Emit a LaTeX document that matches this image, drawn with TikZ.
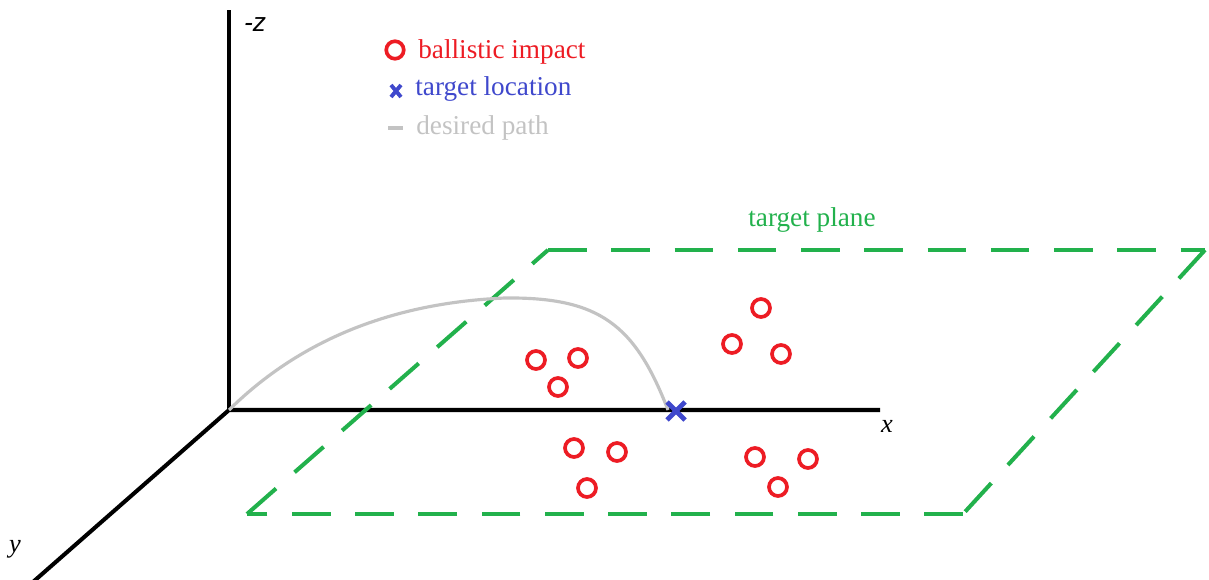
\documentclass[tikz,border=0pt]{standalone}
\usepackage{fontspec}
\setmainfont{Liberation Serif}
\setsansfont{Liberation Sans}
\usepackage{tikz}
\usetikzlibrary{calc,positioning}
\definecolor{impactred}{HTML}{ED1C24}
\definecolor{targetblue}{HTML}{3F48CC}
\definecolor{pathgrey}{HTML}{C3C3C3}
\definecolor{planegreen}{HTML}{22B14C}
\tikzset{
  axis/.style       = {black, line width=2.3pt},
  axis label/.style = {font=\fontsize{15}{18}\selectfont\itshape, inner sep=0pt},
  impact/.style     = {circle, draw=impactred, line width=2.1pt, fill=white,
                       minimum size=3.6mm, inner sep=0pt},
  impact key/.style = {impact, minimum size=3.5mm},
  target mark/.style = {targetblue, line width=2.8pt},
  plane edge/.style = {planegreen, line width=2.3pt,
                       dash pattern=on 22pt off 14pt},
  desired/.style    = {pathgrey, line width=1.8pt},
  key text/.style   = {font=\fontsize{15.5}{18}\selectfont, inner sep=0pt, anchor=west},
}
\begin{document}
\begin{tikzpicture}[x=0.02cm, y=-0.02cm]
      \useasboundingbox (0,0) rectangle (1209,580);
      % axes
      \coordinate (o) at (229,410);
      \coordinate (ztop) at (229,10);
      \coordinate (xend) at (880,410);
      \coordinate (yend) at (33,582);
      \draw[axis] (yend) -- (o) -- (xend);
      \draw[axis] (o) -- (ztop);
      \node[axis label, font=\fontsize{15}{18}\selectfont\sffamily\itshape] (zlab) at (255,25) {-z};
      \node[axis label] (xlab) at (887,426) {x};
      \node[axis label] (ylab) at (15,549) {y};
      % target plane
      \coordinate (p1) at (548,250);
      \coordinate (p2) at (1205,250);
      \coordinate (p3) at (963,514);
      \coordinate (p4) at (247,514);
      \draw[plane edge] (p1) -- (p2);
      \draw[plane edge] (p2) -- (p3);
      \draw[plane edge] (p3) -- (p4);
      \draw[plane edge] (p4) -- (p1);
      \node[planegreen, key text, anchor=center] (planelab) at (812,220) {target plane};
      % desired path
      \coordinate (tgt) at (676,411);
      \draw[desired] (o) .. controls (310,330) and (410,302) .. (505,298)
        .. controls (600,297) and (635,325) .. (668,410);
      % impacts
      \foreach \px/\py [count=\i] in {536/360, 578/358, 558/387, 761/308, 732/344,
                                     781/354, 574/448, 617/452, 587/488, 755/457,
                                     808/459, 778/487}
        \node[impact] (hit\i) at (\px,\py) {};
      % target location
      \draw[target mark] ($(tgt)+(-9,-9)$) -- ($(tgt)+(9,9)$);
      \draw[target mark] ($(tgt)+(-9,9)$) -- ($(tgt)+(9,-9)$);
      % key
      \node[impact key] (keyhit) at (395,50) {};
      \node[key text, impactred] (keyhittxt) at (418,52) {ballistic impact};
      \coordinate (keytgt) at (396,91);
      \draw[target mark, line width=2.2pt] ($(keytgt)+(-5,-6)$) -- ($(keytgt)+(5,6)$);
      \draw[target mark, line width=2.2pt] ($(keytgt)+(-5,6)$) -- ($(keytgt)+(5,-6)$);
      \node[key text, targetblue] (keytgttxt) at (415,89) {target location};
      \coordinate (keypa) at (388,128);
      \coordinate (keypb) at (403,128);
      \draw[pathgrey, line width=2.5pt] (keypa) -- (keypb);
      \node[key text, pathgrey] (keypathtxt) at (416,128) {desired path};
    \end{tikzpicture}
\end{document}
